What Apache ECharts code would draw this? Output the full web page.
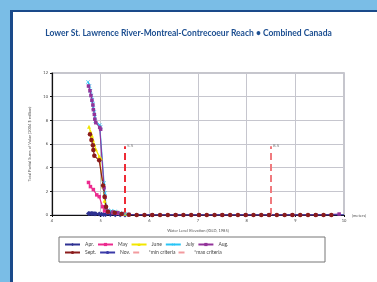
<!DOCTYPE html>
<html>
<head>
<meta charset="utf-8">
<script src="https://cdn.jsdelivr.net/npm/echarts@6/dist/echarts.min.js"></script>
<style>
  body { margin: 0; background: #7abde6; overflow: hidden; }
  #panel {
    position: absolute; left: 10px; top: 10px; right: -10px; bottom: -10px;
    background: #fff; border-left: 3px solid #1a4a8a; border-top: 2px solid #1a4a8a;
  }
  #chart { position: absolute; left: 0; top: 0; width: 377px; height: 282px; }
</style>
</head>
<body>
<div id="panel"></div>
<div id="chart"></div>
<script>
  // water level (m) / total partial sums pairs
  const apr = [[4.75, 0.12], [4.78, 0.12], [4.81, 0.12], [4.84, 0.12], [4.87, 0.1], [4.9, 0.1],
    [4.97, 0.08], [5.02, 0.06], [5.06, 0.05], [5.1, 0.05], [5.2, 0.04], [5.3, 0.03], [5.4, 0.02], [5.5, 0.01]];
  const may = [[4.75, 2.75], [4.79, 2.4], [4.85, 2.15], [4.92, 1.7], [4.97, 1.55], [5.04, 0.7],
    [5.08, 0.35], [5.15, 0.25], [5.25, 0.2], [5.35, 0.15], [5.45, 0.1]];
  const june = [[4.76, 7.45], [4.79, 7.05], [4.82, 6.7], [4.84, 6.35], [4.87, 5.95], [4.9, 5.55],
    [4.97, 4.95], [5.0, 4.8], [5.05, 2.4], [5.08, 1.2], [5.1, 0.65], [5.15, 0.35], [5.25, 0.3],
    [5.35, 0.25], [5.45, 0.15], [5.5, 0.1]];
  const july = [[4.74, 11.25], [4.77, 10.9], [4.79, 10.5], [4.81, 10.1], [4.83, 9.75], [4.84, 9.4],
    [4.85, 9.05], [4.87, 8.7], [4.88, 8.3], [4.89, 7.95], [4.98, 7.6], [5.0, 7.45], [5.07, 2.7],
    [5.09, 1.85], [5.11, 0.7], [5.15, 0.4], [5.22, 0.35], [5.3, 0.3], [5.4, 0.2], [5.5, 0.1]];
  const aug = [[4.75, 10.9], [4.78, 10.5], [4.8, 10.1], [4.82, 9.7], [4.84, 9.3], [4.85, 8.9],
    [4.87, 8.5], [4.88, 8.1], [4.9, 7.8], [4.98, 7.4], [5.0, 7.25], [5.07, 2.3], [5.09, 1.5],
    [5.11, 0.6], [5.15, 0.3], [5.25, 0.25], [5.35, 0.2], [5.45, 0.12], [5.58, 0.05], [6.06, 0],
    [6.54, 0], [7.02, 0], [7.5, 0], [7.98, 0], [8.46, 0], [8.94, 0], [9.42, 0], [9.9, 0.08]];
  const sept = [[4.78, 6.82], [4.81, 6.34], [4.84, 5.9], [4.85, 5.5], [4.87, 5.0], [4.97, 4.62],
    [5.05, 2.5], [5.08, 1.55], [5.11, 0.7], [5.15, 0.28], [5.29, 0.2], [5.43, 0.08], [5.58, 0.02],
    [5.74, 0], [5.9, 0], [6.06, 0], [6.22, 0], [6.38, 0], [6.54, 0], [6.7, 0], [6.86, 0], [7.02, 0],
    [7.18, 0], [7.34, 0], [7.5, 0], [7.66, 0], [7.82, 0], [7.98, 0], [8.14, 0], [8.3, 0], [8.46, 0],
    [8.62, 0], [8.78, 0], [8.94, 0], [9.1, 0], [9.26, 0], [9.42, 0], [9.58, 0], [9.74, 0]];
  const nov = [[4.75, 0.05], [5.0, 0.04], [5.5, 0.02], [6.5, 0.01], [8.0, 0.01], [10.0, 0.01]];
  // criteria lines go up from 0 to the tops of the dashed marks
  const minCriteria = [[5.5, 0], [5.5, 5.8]];
  const maxCriteria = [[8.5, 0], [8.5, 5.8]];

  const legendRow1 = ['Apr.', 'May', 'June', 'July', 'Aug.'];
  const legendRow2 = ['Sept.', 'Nov.', '*min criteria', '*max criteria'];

  const FONT = 'Lato, "Open Sans", sans-serif';
  const xMark = 'path://M0,1L1,0L5,4L9,0L10,1L6,5L10,9L9,10L5,6L1,10L0,9L4,5Z';
  // thin bar with padded bounds, so the legend icon stays a short line
  const thinLine = 'path://M0,0M0,2.5L15,2.5L15,7.5L0,7.5ZM15,10';

  function lineSeries(name, data, color, symbol, size) {
    return {
      name: name,
      type: 'line',
      data: data,
      symbol: symbol,
      symbolSize: size,
      showSymbol: symbol !== 'none',
      lineStyle: {color: color, width: 1.2},
      itemStyle: {color: color},
      animation: false
    };
  }

  function criteriaSeries(name, data, color, tag) {
    return {
      name: name,
      type: 'line',
      data: data,
      symbol: 'none',
      lineStyle: {color: color, width: 2, type: [7, 4]},
      itemStyle: {color: color},
      endLabel: {
        show: true,
        formatter: tag,
        fontSize: 4.5,
        color: '#777',
        distance: 2,
        offset: [0, -1],
        fontFamily: FONT
      },
      animation: false
    };
  }

  const legendBase = {
    itemWidth: 15,
    itemHeight: 4,
    itemGap: 3,
    left: 64,
    padding: 0,
    textStyle: {fontSize: 5, color: '#444', width: 30, fontFamily: FONT}
  };

  const chart = echarts.init(document.getElementById('chart'));
  chart.setOption({
    backgroundColor: 'transparent',
    title: {
      text: 'Lower St. Lawrence River-Montreal-Contrecoeur Reach \u2022 Combined Canada',
      left: 'center',
      top: 24,
      textStyle: {fontSize: 8.5, fontWeight: 'bold', color: '#1d4f91', fontFamily: FONT}
    },
    legend: [
      Object.assign({}, legendBase, {data: legendRow1, top: 242}),
      Object.assign({}, legendBase, {
        top: 250,
        data: legendRow2.map((n, i) => (i < 2 ? n : {
          name: n,
          icon: thinLine,
          itemStyle: {color: '#f29a9e'}
        }))
      })
    ],
    grid: {
      left: 52, top: 73, right: 33, bottom: 67,
      show: true, borderColor: '#b4b4bc', borderWidth: 1.5
    },
    xAxis: {
      type: 'value',
      min: 4, max: 10, interval: 1,
      name: 'Water Level Elevation (IGLD, 1985)',
      nameLocation: 'middle',
      nameGap: 14,
      nameTextStyle: {fontSize: 4, color: '#555', fontFamily: FONT},
      axisLine: {lineStyle: {color: '#111', width: 1.2}},
      axisTick: {length: 2, lineStyle: {color: '#111'}},
      axisLabel: {fontSize: 4, color: '#444', margin: 4, fontFamily: FONT},
      splitLine: {lineStyle: {color: '#c6c6ce', width: 1}}
    },
    yAxis: {
      type: 'value',
      min: 0, max: 12, interval: 2,
      name: 'Total Partial Sums of Value (2004 $ million)',
      nameLocation: 'middle',
      nameGap: 20,
      nameTextStyle: {fontSize: 4, color: '#555', fontFamily: FONT},
      axisLine: {show: true, lineStyle: {color: '#111', width: 1.2}},
      axisTick: {show: true, length: 2, lineStyle: {color: '#111'}},
      axisLabel: {fontSize: 4, color: '#444', margin: 4, fontFamily: FONT},
      splitLine: {lineStyle: {color: '#c6c6ce', width: 1}}
    },
    graphic: [
      {
        type: 'rect',
        shape: {x: 59, y: 237, width: 266, height: 25},
        style: {fill: 'none', stroke: '#777', lineWidth: 1}
      },
      {
        type: 'text',
        x: 352, y: 214,
        style: {text: '(meters)', fontSize: 4, fill: '#555', fontFamily: FONT}
      }
    ],
    series: [
      lineSeries('Apr.', apr, '#2e3192', 'diamond', 5),
      lineSeries('May', may, '#ec2a8f', 'rect', 3.5),
      lineSeries('June', june, '#f2e600', 'triangle', 4),
      lineSeries('July', july, '#29c5f6', xMark, 4),
      lineSeries('Aug.', aug, '#93339a', 'rect', 3.5),
      lineSeries('Sept.', sept, '#8b1c1c', 'circle', 4.5),
      lineSeries('Nov.', nov, '#3a3aa8', 'none', 0),
      criteriaSeries('*min criteria', minCriteria, '#ee2b36', '5.5'),
      criteriaSeries('*max criteria', maxCriteria, '#f07a7e', '8.5')
    ]
  });
</script>
</body>
</html>
